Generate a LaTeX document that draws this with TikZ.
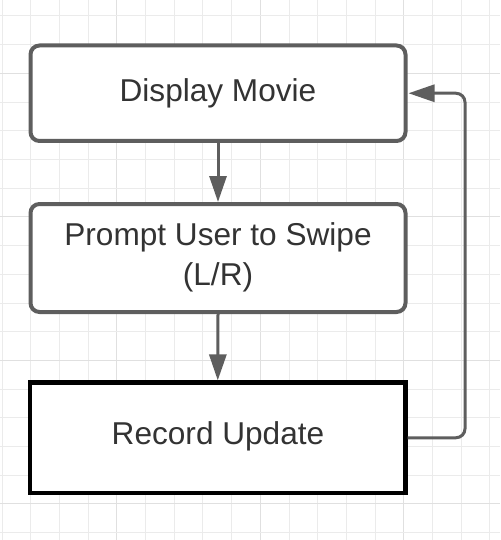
\documentclass[tikz,border=0pt]{standalone}
\usepackage{fontspec}
\setmainfont{Liberation Sans}
\usetikzlibrary{arrows.meta}
\definecolor{lineg}{HTML}{5E5E5E}
\definecolor{textg}{HTML}{333333}
\definecolor{gridminor}{HTML}{EBEBEB}
\definecolor{gridmajor}{HTML}{E0E0E0}
\tikzset{
  roundbox/.style={draw=lineg, line width=4pt, rounded corners=9pt, fill=white, inner sep=0pt, text=textg, align=center},
  squarebox/.style={draw=black, line width=4.2pt, fill=white, inner sep=0pt, text=textg, align=center},
  flowarrow/.style={draw=lineg, line width=3pt, -{Triangle[length=26pt,width=17pt]}},
  lbl/.style={font=\fontsize{31.6pt}{39.5pt}\selectfont}
}
\begin{document}
\begin{tikzpicture}[x=1pt,y=-1pt]
\useasboundingbox (0,0) rectangle (500,540);
\fill[white] (0,0) rectangle (500,540);
% grid
\foreach \k in {0,...,17} {
  \pgfmathsetmacro{\gx}{2+28.7*\k}
  \pgfmathtruncatemacro{\maj}{mod(\k,5)==4 ? 1 : 0}
  \ifnum\maj=1
    \draw[gridmajor, line width=1.1pt] (\gx,0) -- (\gx,540);
  \else
    \draw[gridminor, line width=1pt] (\gx,0) -- (\gx,540);
  \fi
}
\foreach \k in {0,...,18} {
  \pgfmathsetmacro{\gy}{16+28.7*\k}
  \pgfmathtruncatemacro{\maj}{mod(\k,5)==2 ? 1 : 0}
  \ifnum\maj=1
    \draw[gridmajor, line width=1.1pt] (0,\gy) -- (500,\gy);
  \else
    \draw[gridminor, line width=1pt] (0,\gy) -- (500,\gy);
  \fi
}
% boxes
\node[roundbox, minimum width=375pt, minimum height=95.5pt] (display) at (218,93.25) {};
\node[lbl, text=textg] (displaytxt) at (218,93) {Display Movie};
\node[roundbox, minimum width=375pt, minimum height=108pt] (prompt) at (218,258) {};
\node[lbl, text=textg, align=center] (prompttxt) at (218,257.5) {Prompt User to Swipe\\(L/R)};
\node[squarebox, minimum width=375.5pt, minimum height=110.5pt] (record) at (217.75,437.75) {};
\node[lbl, text=textg] (recordtxt) at (218,436.5) {Record Update};
% connectors
\coordinate (loopx) at (465,0);
\draw[flowarrow] (display.south) -- (prompt.north);
\draw[flowarrow] (prompt.south) -- (record.north);
\draw[flowarrow, rounded corners=9pt] (record.east) -- (record.east -| loopx) -- (display.east -| loopx) -- ([xshift=1pt]display.east);
\end{tikzpicture}
\end{document}
